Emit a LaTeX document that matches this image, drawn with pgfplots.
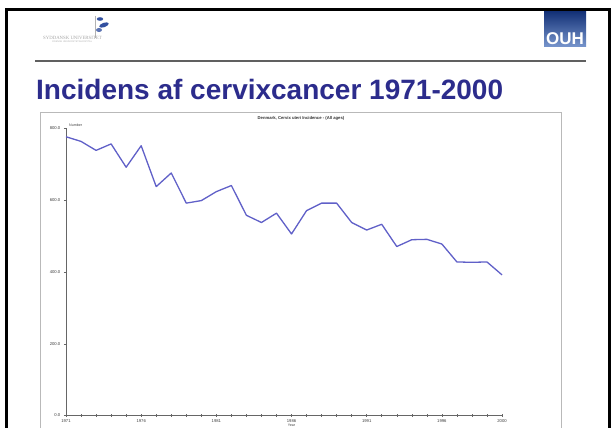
\documentclass[border=0pt]{standalone}
\usepackage{fontspec}
\setmainfont{Liberation Sans}
\newfontfamily\serifl{Liberation Serif}
\usepackage{pgfplots}
\pgfplotsset{compat=1.18}
\definecolor{titleblue}{RGB}{44,44,140}
\definecolor{lineblue}{RGB}{96,96,200}
\definecolor{ouhtop}{RGB}{20,50,120}
\definecolor{ouhbot}{RGB}{120,150,205}
\definecolor{leafblue}{RGB}{50,80,160}
\begin{document}
\begin{tikzpicture}[x=1pt,y=1pt]
\useasboundingbox (0,0) rectangle (611,428);
\fill[white] (0,0) rectangle (611,428);
% slide border
\draw[line width=3pt] (6,-2) -- (6,418) -- (609,418) -- (609,-2);
% logo (Syddansk Universitet)
\draw[gray!60, line width=0.5pt] (95,412) -- (95,390);
\fill[leafblue] (100,409) ellipse (3.2 and 1.8);
\fill[leafblue, rotate around={20:(104,403)}] (104,403) ellipse (5 and 2.2);
\fill[leafblue!80] (99,398) ellipse (3 and 2);
\node[anchor=west, text=gray!70, font=\serifl\fontsize{4.8}{5}\selectfont, inner sep=0pt] at (43,390) {SYDDANSK UNIVERSITET};
\node[anchor=west, text=gray!60, font=\fontsize{2.4}{3}\selectfont, inner sep=0pt] at (52,386.3) {ODENSE UNIVERSITETSHOSPITAL};
% OUH logo
\shade[top color=ouhtop, bottom color=ouhbot] (544,416) rectangle (586,381);
\node[anchor=base, text=white, font=\bfseries\fontsize{17}{18}\selectfont, inner sep=0pt] at (565,383.5) {OUH};
% rule
\draw[gray!75!black, line width=1.2pt] (35,367) -- (586,367);
% title
\node[anchor=base west, text=titleblue, font=\bfseries\fontsize{28}{30}\selectfont, inner sep=0pt] at (36,328) {Incidens af cervixcancer 1971-2000};
% chart frame
\draw[gray!55, line width=0.9pt] (40,-2) -- (40,316) -- (561,316) -- (561,-2);
\node[font=\bfseries\fontsize{4.2}{5}\selectfont, text=black!80] at (301,310) {Denmark, Cervix uteri Incidence - (All ages)};
\begin{axis}[
  at={(66pt,12.5pt)}, anchor=south west,
  scale only axis, width=436pt, height=287pt,
  xmin=1971, xmax=2000, ymin=0, ymax=800,
  axis x line*=bottom, axis y line*=left,
  axis line style={gray!80!black, line width=0.6pt},
  xtick={1971,1976,1981,1986,1991,1996,2000},
  minor xtick={1971,...,2000},
  ytick={0,200,400,600,800},
  tick style={gray!80!black, line width=0.4pt},
  major tick length=2.2pt, minor tick length=2.2pt,
  xtick align=center, ytick align=outside,
  /pgf/number format/assume math mode=true,
  xticklabel style={font=\fontsize{4.2}{4}\selectfont, text=gray!50!black, /pgf/number format/1000 sep={}, yshift=1pt},
  yticklabel style={font=\fontsize{4.2}{4}\selectfont, text=gray!50!black, /pgf/number format/.cd, fixed, fixed zerofill, precision=1, 1000 sep={}},
  clip=false,
]
\addplot[lineblue, line width=1.3pt, line join=round] coordinates {
(1971,777) (1972,764) (1973,739) (1974,757) (1975,692) (1976,752)
(1977,638) (1978,676) (1979,592) (1980,599) (1981,624) (1982,641)
(1983,558) (1984,538) (1985,564) (1986,506) (1987,571) (1988,592)
(1989,592) (1990,538) (1991,517) (1992,533) (1993,471) (1994,490)
(1995,491) (1996,478) (1997,428) (1998,427) (1999,428) (2000,392)
};
\node[anchor=south west, font=\fontsize{3.6}{4}\selectfont, text=gray!50!black, inner sep=0pt] at (rel axis cs:0,1) [xshift=3pt, yshift=2pt] {Number};
\node[font=\fontsize{3.6}{4}\selectfont, text=gray!50!black, inner sep=0pt] at (axis cs:1986,0) [yshift=-10pt] {Year};
\end{axis}
\end{tikzpicture}
\end{document}
